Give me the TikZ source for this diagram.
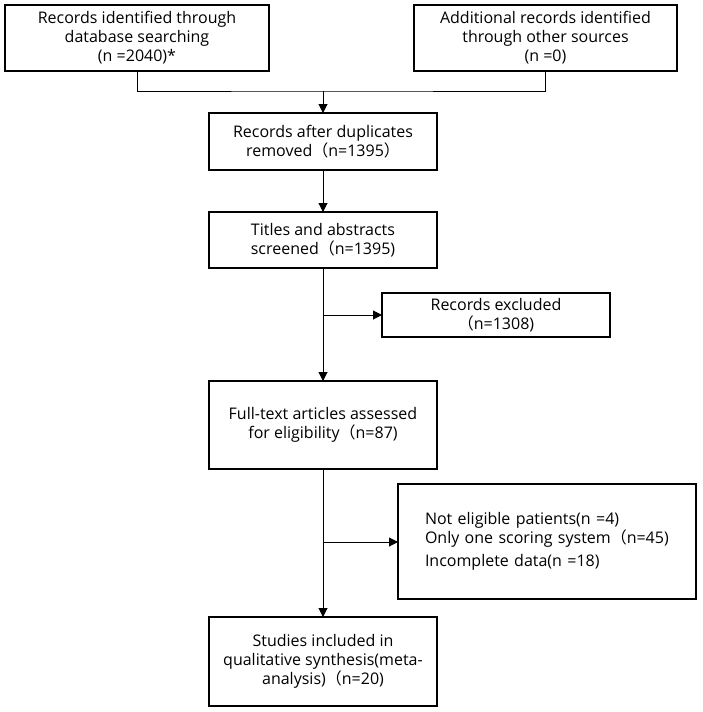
\documentclass[tikz,border=0pt]{standalone}
\usepackage{fontspec}
\setmainfont{Open Sans}
\newfontfamily\cjkfont{Noto Sans CJK SC}
\usetikzlibrary{arrows.meta}
\newcommand{\lpar}{{\cjkfont （}}
\newcommand{\rpar}{{\cjkfont ）}}
\begin{document}
\begin{tikzpicture}[x=1pt,y=-1pt,
  box/.style={draw=black,line width=2.5pt,fill=white,align=center,inner sep=0pt,outer sep=0pt,
    font=\fontsize{16}{19}\selectfont},
  conn/.style={line width=1pt,draw=black},
  arr/.style={conn,-{Triangle[width=9pt,length=9pt]}}]
\useasboundingbox (0,0) rectangle (702,712);
\fill[white] (0,0) rectangle (702,712);
\node[box,minimum width=264,minimum height=66] (b1) at (137,38)
  {Records identified through\\database searching\\(n =2040)*};
\node[box,minimum width=263,minimum height=66] (b2) at (545.5,38)
  {Additional records identified\\through other sources\\(n =0)};
\node[box,minimum width=228,minimum height=57] (b3) at (323,141.5)
  {Records after duplicates\\removed\lpar n=1395\rpar};
\node[box,minimum width=228,minimum height=56] (b4) at (323,240)
  {Titles and abstracts\\screened\lpar n=1395)};
\node[box,minimum width=228,minimum height=44] (ex1) at (496,315)
  {Records excluded\\\lpar n=1308)};
\node[box,minimum width=228,minimum height=88] (b5) at (323,425)
  {Full-text articles assessed\\for eligibility\lpar n=87)};
\node[box,minimum height=115,text width=244,inner xsep=27pt,align=left] (ex2) at (547,541.5)
  {Not eligible patients(n =4)\\Only one scoring system\lpar n=45)\\[4pt]Incomplete data(n =18)};
\node[box,minimum width=228,minimum height=89] (b6) at (323,661.5)
  {Studies included in\\qualitative synthesis(meta-\\analysis)\lpar n=20)};
\coordinate (j) at (323,91);
\coordinate (c1) at (323,315);
\coordinate (c2) at (323,542);
\draw[conn] (b1.south) |- (j) -| (b2.south);
\draw[arr] (j) -- (b3.north);
\draw[arr] (b3.south) -- (b4.north);
\draw[arr] (b4.south) -- (b5.north);
\draw[arr] (c1) -- (c1 -| ex1.west);
\draw[arr] (b5.south) -- (b6.north);
\draw[arr] (c2) -- (c2 -| ex2.west);
\end{tikzpicture}
\end{document}
